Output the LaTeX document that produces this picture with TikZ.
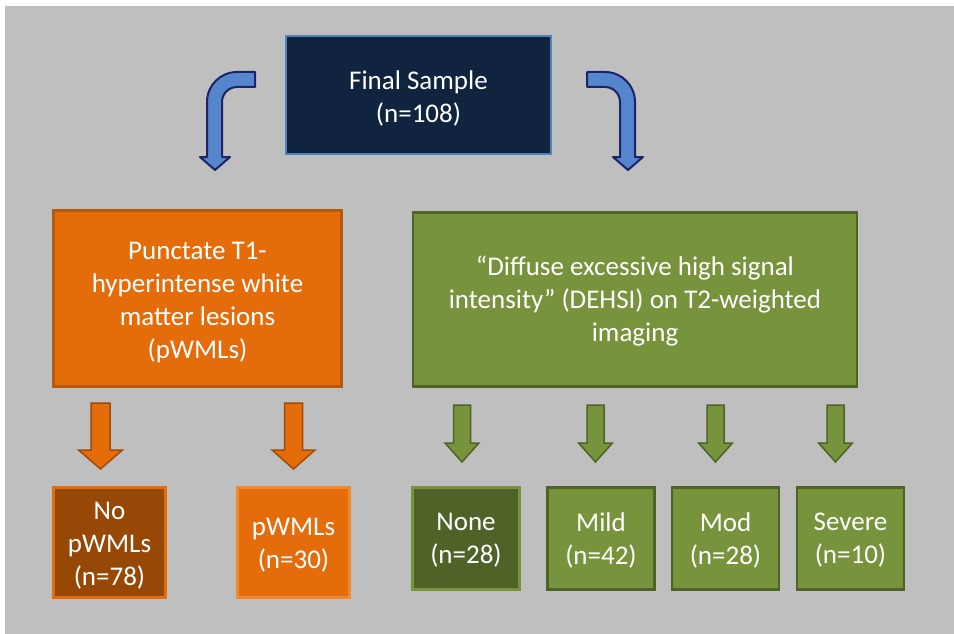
\documentclass[tikz,border=0pt]{standalone}
\usepackage{fontspec}
\setmainfont{Carlito}
\definecolor{bg}{HTML}{BFBFBF}
\definecolor{navy}{HTML}{10243F}
\definecolor{navyedge}{HTML}{4F81BD}
\definecolor{bluefill}{HTML}{5585CC}
\definecolor{blueedge}{HTML}{1B2466}
\definecolor{orng}{HTML}{E46C0A}
\definecolor{orngdark}{HTML}{974806}
\definecolor{orngedge}{HTML}{A04C08}
\definecolor{orngbig}{HTML}{B45A0C}
\definecolor{orngl}{HTML}{F0892E}
\definecolor{grn}{HTML}{77933C}
\definecolor{grndark}{HTML}{4F6228}
\tikzset{
  box/.style={draw, line width=2.5pt, inner sep=0pt},
  boxtext/.style={text=white, align=center, inner sep=0pt,
    font=\fontsize{27}{33}\selectfont},
  bluearrow/.style={fill=bluefill, draw=blueedge, line width=2pt, line join=round},
  orarrow/.style={fill=orng, draw=orngedge, line width=1.5pt, line join=miter},
  grarrow/.style={fill=grn, draw=grndark, line width=1.5pt, line join=miter},
}
\newcommand{\blockdown}[7]{% style, cx, ytop, ybase, ytip, halfshaft, halfhead
  \draw[#1] (#2-#6,#3) -- (#2+#6,#3) -- (#2+#6,#4) -- (#2+#7,#4) -- (#2,#5)
    -- (#2-#7,#4) -- (#2-#6,#4) -- cycle;}
\begin{document}
\begin{tikzpicture}[x=1pt,y=-1pt]
\useasboundingbox (0,0) rectangle (954,634);
\fill[white] (0,0) rectangle (954,634);
\fill[bg] (5,6) rectangle (954,634);

% top box
\node[box, fill=navy, draw=navyedge, minimum width=265, minimum height=118]
  (top) at (418.5,95) {};
\node[boxtext] (toptext) at ([yshift=-3pt]top.center) {Final Sample\\(n=108)};

% curved arrows
\draw[bluearrow] (255,72) -- (237,72) .. controls (220.4,72) and (207,85.4) .. (207,102)
  -- (207,157) -- (200,157) -- (215,170) -- (230,157) -- (222,157) -- (222,102)
  .. controls (222,93.7) and (228.7,87) .. (237,87) -- (255,87) -- cycle;
\draw[bluearrow] (587,72) -- (605,72) .. controls (621.6,72) and (635,85.4) .. (635,102)
  -- (635,157) -- (643,157) -- (628,170) -- (613,157) -- (620,157) -- (620,102)
  .. controls (620,93.7) and (613.3,87) .. (605,87) -- (587,87) -- cycle;

% second level
\node[box, fill=orng, draw=orngbig, minimum width=288, minimum height=176]
  (pwml) at (197.5,298.5) {};
\node[boxtext] (pwmltext) at ([yshift=-4pt]pwml.center)
  {Punctate T1-\\hyperintense white\\matter lesions\\(pWMLs)};
\node[box, fill=grn, draw=grndark, minimum width=444, minimum height=174]
  (dehsi) at (635,299.5) {};
\node[boxtext] (dehsitext) at ([yshift=-2pt]dehsi.center)
  {“Diffuse excessive high signal\\intensity” (DEHSI) on T2-weighted\\imaging};

% orange arrows
\blockdown{orarrow}{100.5}{403}{450}{469}{9.5}{22}
\blockdown{orarrow}{293.5}{403}{450}{469}{9}{21.5}

% green arrows
\blockdown{grarrow}{462}{405}{443}{462}{8.5}{17}
\blockdown{grarrow}{595.5}{405}{443}{462}{8.5}{17}
\blockdown{grarrow}{715.5}{405}{443}{462}{8.5}{17}
\blockdown{grarrow}{835.5}{405}{443}{462}{8.5}{17}

% bottom boxes
\node[box, fill=orngdark, draw=orng, minimum width=112, minimum height=110]
  (nop) at (109.5,542.5) {};
\node[boxtext] (noptext) at ([yshift=-3pt]nop.center) {No\\pWMLs\\(n=78)};
\node[box, fill=orng, draw=orngl, minimum width=112, minimum height=110]
  (yesp) at (293.5,542.5) {};
\node[boxtext] (yesptext) at ([yshift=-3pt]yesp.center) {pWMLs\\(n=30)};
\node[box, fill=grndark, draw=grn, minimum width=107, minimum height=102]
  (none) at (466,538.5) {};
\node[boxtext] (nonetext) at ([yshift=-2pt]none.center) {None\\(n=28)};
\node[box, fill=grn, draw=grndark, minimum width=107, minimum height=102]
  (mild) at (601,538.5) {};
\node[boxtext] (mildtext) at ([yshift=-2pt]mild.center) {Mild\\(n=42)};
\node[box, fill=grn, draw=grndark, minimum width=107, minimum height=102]
  (mod) at (725.5,538.5) {};
\node[boxtext] (modtext) at ([yshift=-2pt]mod.center) {Mod\\(n=28)};
\node[box, fill=grn, draw=grndark, minimum width=107, minimum height=102]
  (sev) at (850.5,538.5) {};
\node[boxtext] (sevtext) at ([yshift=-2pt]sev.center) {Severe\\(n=10)};
\end{tikzpicture}
\end{document}
